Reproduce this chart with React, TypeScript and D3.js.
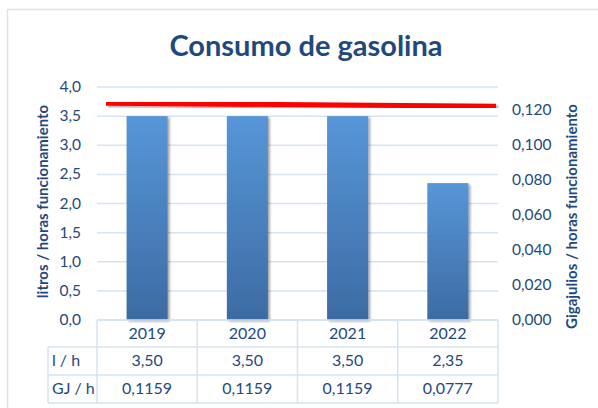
import React from "react";
import * as d3 from "d3";

const years = ["2019", "2020", "2021", "2022"];
const litrosHora = [3.5, 3.5, 3.5, 2.35];
const gjHora = [0.1159, 0.1159, 0.1159, 0.0777];
const leftTicks = [0, 0.5, 1, 1.5, 2, 2.5, 3, 3.5, 4];
const rightTicks = [0, 0.02, 0.04, 0.06, 0.08, 0.1, 0.12];
// red reference line (left-axis units), position along category axis (0..4)
const refLineX = [0.09, 3.98];
const refLineY = [3.72, 3.67];

const W = 598, H = 408;
const M = { left: 97, right: 498, top: 87, bottom: 320 };
const FONT = "Lato, 'Open Sans', sans-serif";
const TXT = "#1f497d";
const GRID = "#d6e3f1";

export default function App() {
  const x = d3.scaleBand<string>().domain(years).range([M.left, M.right]).paddingInner(0.59).paddingOuter(0.295);
  const xl = d3.scaleLinear().domain([0, 4]).range([M.left, M.right]);
  const y = d3.scaleLinear().domain([0, 4]).range([M.bottom, M.top]);
  const yr = d3.scaleLinear().domain([0, 0.1333]).range([M.bottom, M.top]);
  const colW = (M.right - M.left) / years.length;
  const fmt1 = (v: number) => v.toFixed(1).replace(".", ",");
  const fmt3 = (v: number) => v.toFixed(3).replace(".", ",");
  const fmt2 = (v: number) => v.toFixed(2).replace(".", ",");
  const fmt4 = (v: number) => v.toFixed(4).replace(".", ",");
  const line = d3.line<number>().x((_, i) => xl(refLineX[i])).y((d) => y(d));
  const rows = [M.bottom, 347, 375, 403];

  return (
    <svg width={W} height={H} style={{ position: "absolute", left: 0, top: 0, background: "#fff" }}>
      <defs>
        <linearGradient id="barg" x1="0" y1="0" x2="0" y2="1">
          <stop offset="0" stopColor="#5796d8" />
          <stop offset="1" stopColor="#3d6ba3" />
        </linearGradient>
        <filter id="sh" x="-20%" y="-20%" width="150%" height="150%">
          <feDropShadow dx="2" dy="1.5" stdDeviation="1.3" floodColor="#000" floodOpacity="0.35" />
        </filter>
      </defs>
      <rect x={7.5} y={9.5} width={W} height={H} fill="#fff" stroke="#d9e4f1" strokeWidth={1.5} />
      <text x={306} y={56} textAnchor="middle" fontFamily={FONT} fontWeight="bold" fontSize={29} fill={TXT}>
        Consumo de gasolina
      </text>
      {leftTicks.map((t) => (
        <g key={"g" + t}>
          <line x1={M.left} x2={M.right} y1={y(t)} y2={y(t)} stroke={GRID} strokeWidth={1.5} />
          <text x={81} y={y(t) + 5} textAnchor="end" fontFamily={FONT} fontSize={15.5} fill={TXT}>
            {fmt1(t)}
          </text>
        </g>
      ))}
      {rightTicks.map((t) => (
        <text key={"r" + t} x={512} y={yr(t) + 5} fontFamily={FONT} fontSize={15.5} fill={TXT}>
          {fmt3(t)}
        </text>
      ))}
      <text transform={`translate(48,${(93 + 310) / 2}) rotate(-90)`} textAnchor="middle" fontFamily={FONT} fontWeight="bold" fontSize={15} fill={TXT}>
        litros / horas funcionamiento
      </text>
      <text transform={`translate(577,${(93 + 340) / 2}) rotate(-90)`} textAnchor="middle" fontFamily={FONT} fontWeight="bold" fontSize={15} fill={TXT}>
        Gigajulios / horas funcionamiento
      </text>
      {years.map((yr0, i) => (
        <rect key={yr0} x={x(yr0)} y={y(litrosHora[i])} width={x.bandwidth()} height={y(0) - y(litrosHora[i])} fill="url(#barg)" filter="url(#sh)" />
      ))}
      <path d={line(refLineY) || ""} stroke="#ff0000" strokeWidth={5} fill="none" filter="url(#sh)" />
      {/* data table */}
      <g stroke={GRID} strokeWidth={1.5}>
        <line x1={M.left} x2={M.right} y1={M.bottom} y2={M.bottom} />
        <line x1={48} x2={M.right} y1={rows[1]} y2={rows[1]} />
        <line x1={48} x2={M.right} y1={rows[2]} y2={rows[2]} />
        <line x1={48} x2={M.right} y1={rows[3]} y2={rows[3]} />
        <line x1={48} x2={48} y1={rows[1]} y2={rows[3]} />
        {d3.range(years.length + 1).map((i) => (
          <line key={i} x1={M.left + i * colW} x2={M.left + i * colW} y1={M.bottom} y2={rows[3]} />
        ))}
      </g>
      <text x={52} y={366} fontFamily={FONT} fontSize={16} fill={TXT}>l / h</text>
      <text x={52} y={394} fontFamily={FONT} fontSize={16} fill={TXT}>GJ / h</text>
      {years.map((yr0, i) => {
        const cx = M.left + (i + 0.5) * colW;
        return (
          <g key={"t" + yr0} fontFamily={FONT} fontSize={16} fill={TXT} textAnchor="middle">
            <text x={cx} y={339}>{yr0}</text>
            <text x={cx} y={366}>{fmt2(litrosHora[i])}</text>
            <text x={cx} y={394}>{fmt4(gjHora[i])}</text>
          </g>
        );
      })}
    </svg>
  );
}
